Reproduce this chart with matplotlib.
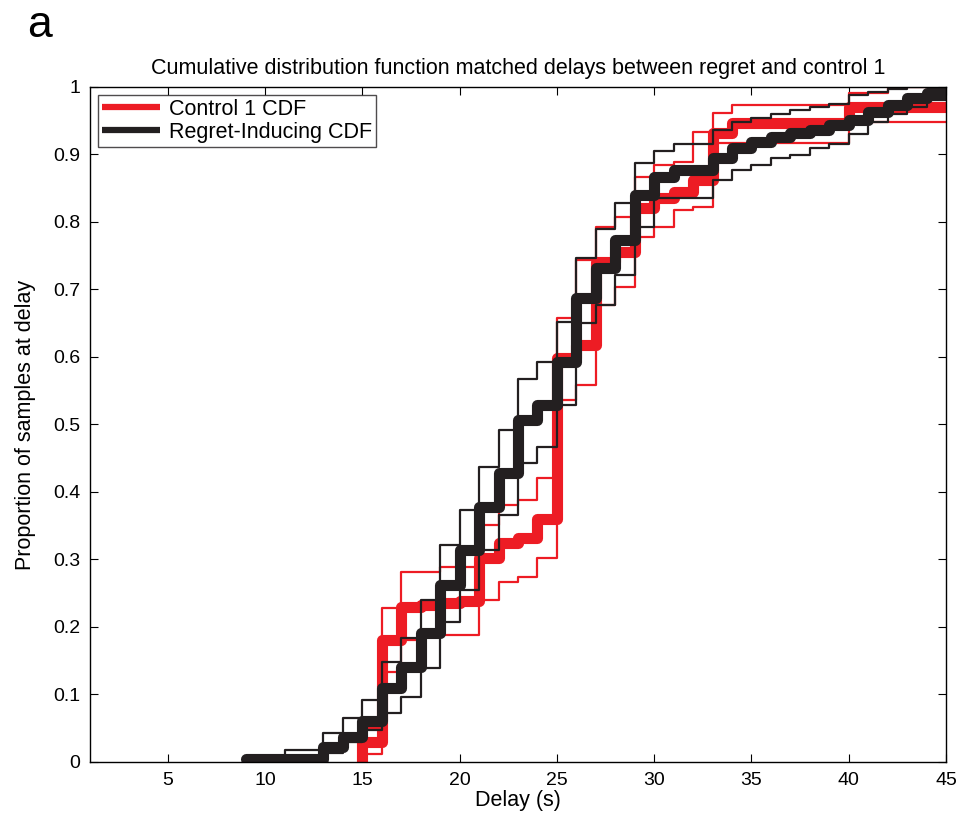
import numpy as np
import matplotlib
matplotlib.use('Agg')
import matplotlib.pyplot as plt

plt.rcParams['font.family'] = ['Liberation Sans', 'DejaVu Sans']

RED = '#ed1c24'
BLACK = '#231f20'

# delays (s) for each curve
ctrl_x = [15, 15, 16, 17, 18, 19, 20, 21, 22, 23, 24, 25, 26, 27, 28, 29, 30,
          31, 32, 33, 34, 35, 36, 37, 38, 39, 40, 41, 42, 43, 44, 45]
ctrl_cdf = [0.0, 0.03, 0.18, 0.23, 0.232, 0.235, 0.238, 0.302, 0.324, 0.332, 0.36,
            0.598, 0.618, 0.74, 0.755, 0.82, 0.835, 0.845, 0.862, 0.932, 0.946,
            0.946, 0.946, 0.946, 0.946, 0.946, 0.97, 0.97, 0.97, 0.97, 0.97, 0.97]
ctrl_hi = [0.0, 0.05, 0.228, 0.281, 0.281, 0.289, 0.289, 0.351, 0.381, 0.388, 0.42,
           0.658, 0.744, 0.793, 0.807, 0.867, 0.884, 0.889, 0.933, 0.961, 0.973,
           0.973, 0.973, 0.973, 0.973, 0.973, 0.991, 0.991, 1.0, 1.0, 1.0, 1.0]
ctrl_lo = [0.0, 0.012, 0.133, 0.18, 0.185, 0.188, 0.188, 0.24, 0.267, 0.274, 0.302,
           0.536, 0.558, 0.677, 0.704, 0.778, 0.793, 0.818, 0.822, 0.917, 0.917,
           0.917, 0.917, 0.917, 0.917, 0.917, 0.948, 0.948, 0.948, 0.948, 0.948, 0.948]

reg_x = [9, 10, 11, 12, 13, 14, 15, 16, 17, 18, 19, 20, 21, 22, 23, 24, 25, 26,
         27, 28, 29, 30, 31, 32, 33, 34, 35, 36, 37, 38, 39, 40, 41, 42, 43, 44, 45]
reg_cdf = [0.005, 0.005, 0.005, 0.005, 0.022, 0.037, 0.06, 0.11, 0.141, 0.191, 0.262,
           0.314, 0.378, 0.428, 0.507, 0.529, 0.593, 0.687, 0.732, 0.773, 0.84, 0.867,
           0.877, 0.877, 0.895, 0.91, 0.919, 0.926, 0.932, 0.936, 0.944, 0.951, 0.963,
           0.973, 0.984, 0.991, 0.995]
reg_hi = [0.006, 0.006, 0.018, 0.018, 0.043, 0.065, 0.092, 0.148, 0.184, 0.24, 0.321,
          0.373, 0.437, 0.492, 0.567, 0.593, 0.652, 0.747, 0.79, 0.828, 0.887, 0.905,
          0.915, 0.915, 0.936, 0.948, 0.954, 0.96, 0.966, 0.971, 0.975, 0.988, 0.993,
          0.997, 1.0, 1.0, 1.0]
reg_lo = [0.0, 0.0, 0.0, 0.003, 0.013, 0.03, 0.047, 0.073, 0.097, 0.139, 0.207, 0.255,
          0.314, 0.366, 0.443, 0.467, 0.529, 0.65, 0.677, 0.721, 0.793, 0.836, 0.836,
          0.836, 0.862, 0.877, 0.884, 0.895, 0.899, 0.91, 0.915, 0.93, 0.948, 0.96,
          0.97, 0.98, 0.985]

xticks = [5, 10, 15, 20, 25, 30, 35, 40, 45]
yticks = [0, 0.1, 0.2, 0.3, 0.4, 0.5, 0.6, 0.7, 0.8, 0.9, 1]
ytick_labels = ['0', '0.1', '0.2', '0.3', '0.4', '0.5', '0.6', '0.7', '0.8', '0.9', '1']

fig = plt.figure(figsize=(9.64, 8.19), dpi=100)
ax = fig.add_axes([0.0934, 0.0696, 0.8879, 0.8242])

thin = dict(drawstyle='steps-post', lw=1.6)
thick = dict(drawstyle='steps-post', lw=8, solid_capstyle='round', solid_joinstyle='round')

ax.plot(ctrl_x, ctrl_hi, color=RED, **thin)
ax.plot(ctrl_x, ctrl_lo, color=RED, **thin)
ax.plot(ctrl_x, ctrl_cdf, color=RED, label='Control 1 CDF', **thick)
ax.plot(reg_x, reg_hi, color=BLACK, **thin)
ax.plot(reg_x, reg_lo, color=BLACK, **thin)
ax.plot(reg_x, reg_cdf, color=BLACK, label='Regret-Inducing CDF', **thick)

ax.set_xlim(1, 45)
ax.set_ylim(0, 1)
ax.set_xticks(xticks)
ax.set_yticks(yticks)
ax.set_yticklabels(ytick_labels)
ax.tick_params(direction='in', top=True, right=True, length=6, labelsize=14, pad=7)
for s in ax.spines.values():
    s.set_linewidth(1.0)

ax.set_title('Cumulative distribution function matched delays between regret and control 1',
             fontsize=15.5, pad=9)
ax.set_xlabel('Delay (s)', fontsize=15.5, labelpad=1)
ax.set_ylabel('Proportion of samples at delay', fontsize=15.5, labelpad=12)

leg = ax.legend(loc='upper left', fontsize=15.5, frameon=True, fancybox=False,
                handlelength=2.7, handletextpad=0.4, borderaxespad=0.35,
                borderpad=0.2, labelspacing=0.1)
leg.get_frame().set_edgecolor(BLACK)
leg.get_frame().set_linewidth(1.0)
for line in leg.get_lines():
    line.set_linewidth(4.5)
    line.set_solid_capstyle('butt')

fig.text(0.028, 0.955, 'a', fontsize=32)

fig.savefig('out.png', dpi=100)
